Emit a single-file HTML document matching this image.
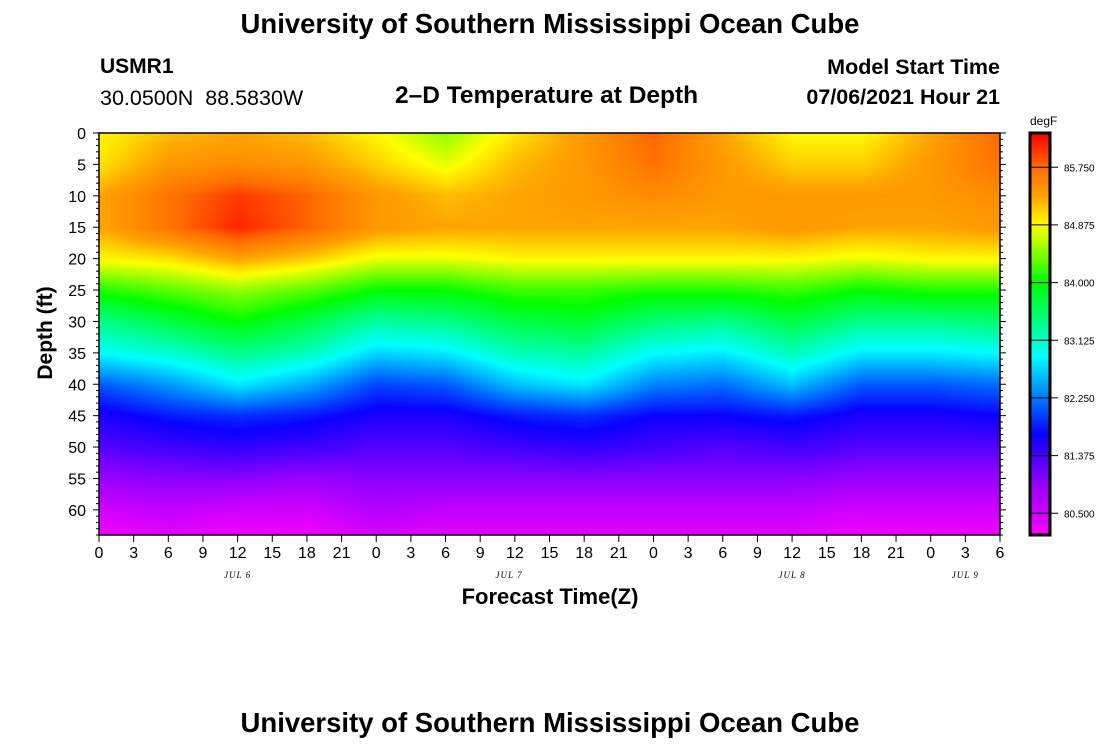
<!DOCTYPE html>
<html><head><meta charset="utf-8"><style>
body{margin:0;background:#fff;width:1100px;height:750px;overflow:hidden;position:relative;font-family:"Liberation Sans",sans-serif}
.t{position:absolute;white-space:nowrap;color:#000}
canvas{position:absolute}
</style></head><body>
<div class="t" style="left:0;width:1100px;text-align:center;top:8px;font-size:27.5px;font-weight:bold">University of Southern Mississippi Ocean Cube</div>
<div class="t" style="left:100px;top:55px;font-size:21px;font-weight:bold">USMR1</div>
<div class="t" style="left:100px;top:86px;font-size:21.5px">30.0500N&nbsp;&nbsp;88.5830W</div>
<div class="t" style="left:395px;top:82px;font-size:24.5px;font-weight:bold">2–D Temperature at Depth</div>
<div class="t" style="right:100px;top:55px;font-size:21.5px;font-weight:bold">Model Start Time</div>
<div class="t" style="right:100px;top:85px;font-size:21.5px;font-weight:bold">07/06/2021 Hour 21</div>
<div class="t" style="left:0;width:1100px;text-align:center;top:584px;font-size:22px;font-weight:bold">Forecast Time(Z)</div>
<div class="t" style="left:-4px;top:321px;width:100px;text-align:center;font-size:21px;font-weight:bold;transform:rotate(-90deg)">Depth (ft)</div>
<div class="t" style="left:0;width:1100px;text-align:center;top:707px;font-size:27.5px;font-weight:bold">University of Southern Mississippi Ocean Cube</div>
<div class="t" style="left:1030px;top:114px;font-size:12px">degF</div>
<canvas id="heat" width="901" height="402" style="left:99px;top:133px"></canvas>
<canvas id="cbar" width="20" height="402" style="left:1030px;top:133px"></canvas>
<svg id="ax" width="1100" height="750" style="position:absolute;left:0;top:0"></svg>
<script>
const times=[0,6,12,18,24,30,36,42,48,54,60,66,72,78];
const depths=[0,5,10,15,20,25,30,35,40,45,50,55,60,65];
const temps=[
[84.9,85.0,85.3,85.3,84.9,84.1,83.4,82.9,82.1,81.6,81.3,80.9,80.5,80.2],
[85.2,85.4,85.7,85.7,85.0,84.3,83.7,83.1,82.4,81.8,81.4,81.0,80.6,80.3],
[85.3,85.5,86.0,86.1,85.3,84.5,84.0,83.4,82.8,81.9,81.5,81.0,80.5,80.2],
[85.2,85.4,85.8,85.8,85.1,84.3,83.7,83.2,82.5,81.8,81.4,80.9,80.5,80.2],
[84.9,85.1,85.4,85.4,84.8,84.0,83.3,82.7,82.0,81.6,81.3,81.0,80.7,80.4],
[84.5,84.8,85.2,85.3,84.8,84.0,83.4,82.8,82.1,81.6,81.3,81.0,80.6,80.3],
[85.0,85.2,85.3,85.3,84.9,84.2,83.7,83.2,82.6,81.8,81.4,81.0,80.6,80.3],
[85.4,85.4,85.4,85.3,84.9,84.2,83.8,83.3,82.8,81.9,81.5,81.0,80.6,80.3],
[85.8,85.7,85.5,85.3,84.9,84.1,83.5,82.9,82.3,81.7,81.4,81.0,80.6,80.3],
[85.3,85.4,85.4,85.3,84.9,84.1,83.4,82.8,82.2,81.7,81.3,81.0,80.6,80.3],
[84.9,85.1,85.4,85.4,84.9,84.2,83.7,83.2,82.6,81.8,81.4,81.0,80.6,80.3],
[84.9,85.1,85.4,85.3,84.8,84.0,83.4,82.8,82.1,81.6,81.3,80.9,80.5,80.2],
[85.3,85.4,85.4,85.3,84.9,84.1,83.4,82.8,82.1,81.6,81.3,80.9,80.5,80.2],
[85.8,85.7,85.5,85.4,84.9,84.1,83.5,82.9,82.2,81.7,81.3,80.9,80.5,80.2]];
const xTickLabels=["0","3","6","9","12","15","18","21","0","3","6","9","12","15","18","21","0","3","6","9","12","15","18","21","0","3","6"];
const yTicks=[0,5,10,15,20,25,30,35,40,45,50,55,60];
const dayLabels=["JUL 6","JUL 7","JUL 8","JUL 9"];
const dayHours=[12,35.5,60,75];
const cbTicks=[85.75,84.875,84.0,83.125,82.25,81.375,80.5];
const stops=[[80.17,[255,0,255]],[81.0,[140,0,255]],[81.7,[10,0,255]],[82.25,[0,120,255]],[82.9,[0,255,255]],[84.0,[0,255,0]],[84.875,[255,255,0]],[85.3,[255,165,0]],[85.75,[255,110,0]],[86.27,[255,0,0]]];
function cmap(v){if(v<=stops[0][0])return stops[0][1];for(let i=1;i<stops.length;i++){if(v<=stops[i][0]){const a=stops[i-1],b=stops[i],f=(v-a[0])/(b[0]-a[0]);return a[1].map((c,k)=>Math.round(c+(b[1][k]-c)*f));}}return stops[stops.length-1][1];}
const X0=99,X1=1000,Y0=133,Y1=535,TMAX=78,DMAX=64;
const xs=t=>X0+(X1-X0)*t/TMAX, ys=d=>Y0+(Y1-Y0)*d/DMAX;
function sample(t,d){let i=Math.min(times.length-2,Math.max(0,Math.floor(t/6)));let j=Math.min(depths.length-2,Math.max(0,Math.floor(d/5)));
const ft=(t-times[i])/(times[i+1]-times[i]),fd=(d-depths[j])/(depths[j+1]-depths[j]);
const a=temps[i][j]*(1-fd)+temps[i][j+1]*fd,b=temps[i+1][j]*(1-fd)+temps[i+1][j+1]*fd;return a*(1-ft)+b*ft;}
const hc=document.getElementById('heat'),hx=hc.getContext('2d'),img=hx.createImageData(901,402);
for(let py=0;py<402;py++){const d=py/402*DMAX;for(let px=0;px<901;px++){const t=px/901*TMAX;const c=cmap(sample(t,d));const o=(py*901+px)*4;img.data[o]=c[0];img.data[o+1]=c[1];img.data[o+2]=c[2];img.data[o+3]=255;}}
hx.putImageData(img,0,0);
const VT=86.27,VB=80.17,cy=v=>Y0+(VT-v)/(VT-VB)*(Y1-Y0);
const cc=document.getElementById('cbar').getContext('2d');
for(let py=0;py<402;py++){const v=VT-(VT-VB)*py/402;const c=cmap(v);cc.fillStyle=`rgb(${c})`;cc.fillRect(0,py,20,1);}
const svg=document.getElementById('ax'),NS='http://www.w3.org/2000/svg';
function el(tag,attrs,txt){const e=document.createElementNS(NS,tag);for(const k in attrs)e.setAttribute(k,attrs[k]);if(txt!==undefined)e.textContent=txt;svg.appendChild(e);return e;}
let e=el('rect',{x:X0,y:Y0,width:X1-X0,height:Y1-Y0,fill:'none',stroke:'#000','stroke-width':1.5});


for(let d=0;d<=DMAX;d++){const maj=d%5===0;el('line',{x1:X0-(maj?6:3),x2:X0,y1:ys(d),y2:ys(d),stroke:'#000'});el('line',{x1:X1,x2:X1+(maj?6:3),y1:ys(d),y2:ys(d),stroke:'#000'});}
yTicks.forEach(d=>{e=el('text',{x:X0-13,y:ys(d)+6,'text-anchor':'end','font-size':16,'font-family':'Liberation Sans'},String(d));

});
xTickLabels.forEach((lab,i)=>{const x=xs(i*3);el('line',{x1:x,x2:x,y1:Y1,y2:Y1+7,stroke:'#000'});
e=el('text',{x:x,y:Y1+23,'text-anchor':'middle','font-size':16,'font-family':'Liberation Sans'},lab);

});
dayLabels.forEach((lab,i)=>{e=el('text',{x:xs(dayHours[i]),y:Y1+43,'text-anchor':'middle','font-size':9,'font-style':'italic','letter-spacing':'1','font-family':'Liberation Serif'},lab);

});
e=el('rect',{x:1030,y:Y0,width:20,height:Y1-Y0,fill:'none',stroke:'#000','stroke-width':3});


cbTicks.forEach(v=>{const y=cy(v);el('line',{x1:1030,x2:1058,y1:y,y2:y,stroke:'#000'});
e=el('text',{x:1064,y:y+4,'font-size':10,'font-family':'Liberation Sans'},v.toFixed(3));

});
</script>
</body></html>
